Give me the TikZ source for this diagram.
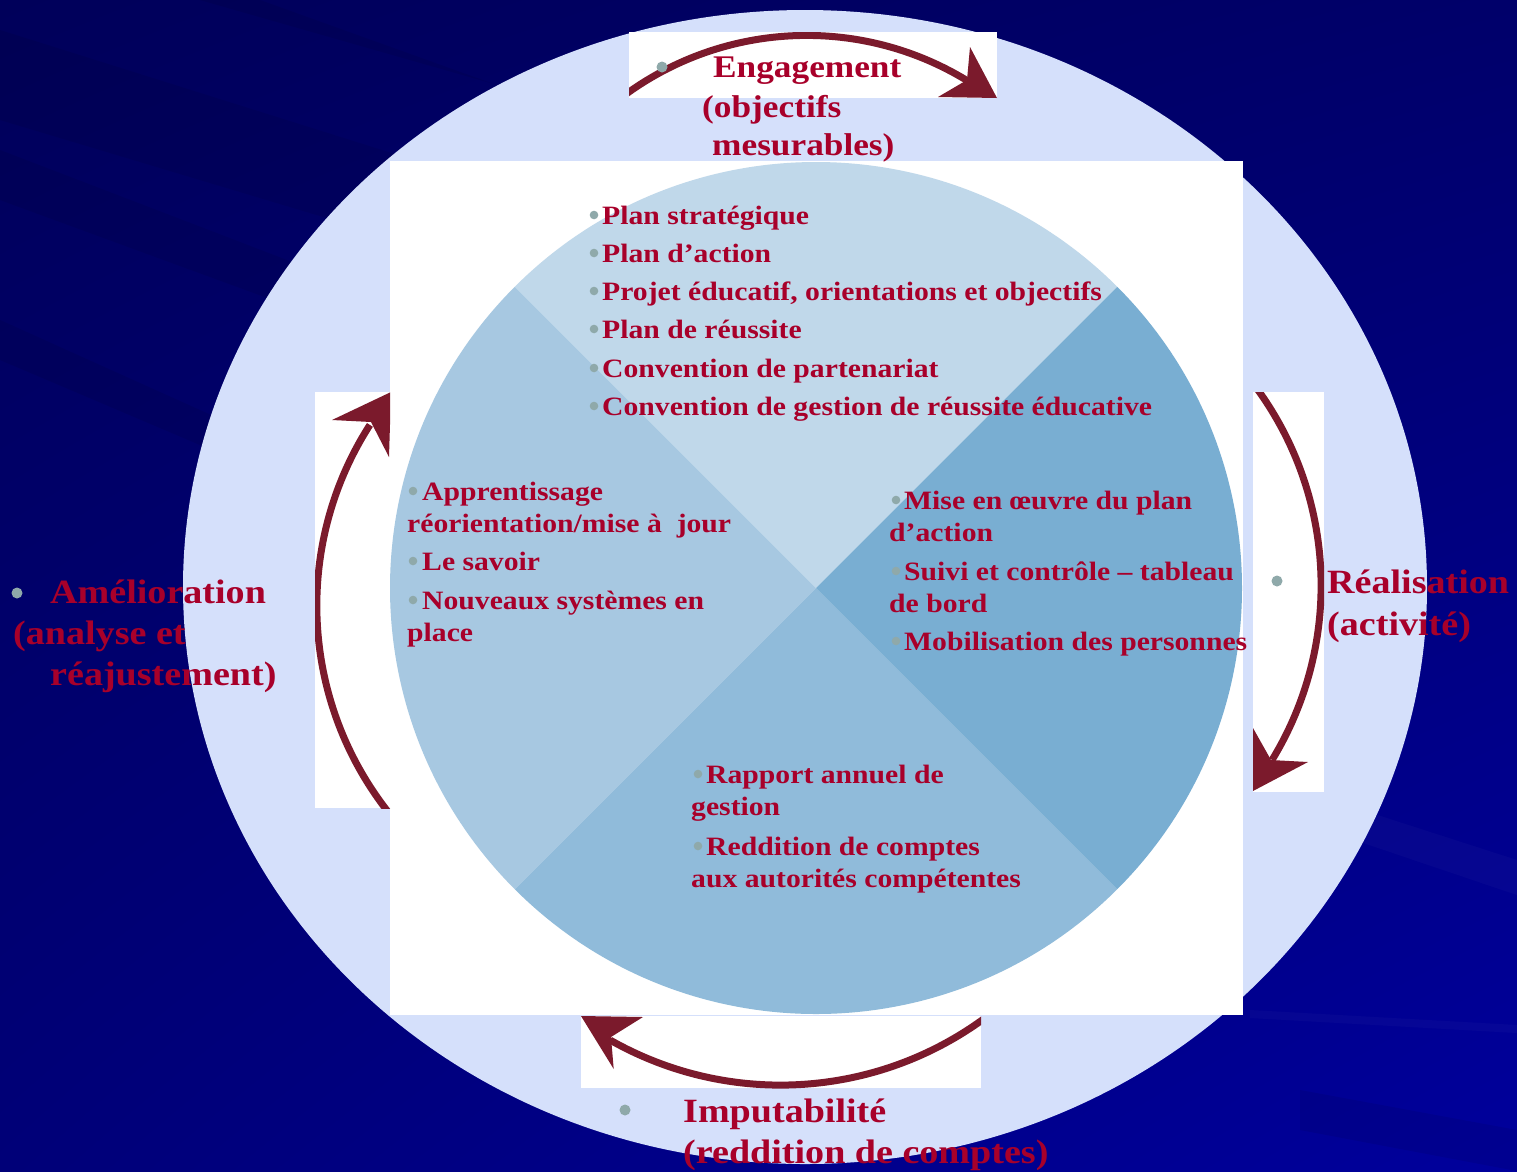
\documentclass[tikz,border=0pt]{standalone}
\usepackage{fontspec}
\usetikzlibrary{shadings}
\newfontfamily\labfont[FakeStretch=1.12]{Liberation Serif}
\definecolor{navyA}{HTML}{00005A}
\definecolor{navyB}{HTML}{00006A}
\definecolor{navyC}{HTML}{000078}
\definecolor{navyD}{HTML}{00009C}
\definecolor{ringc}{HTML}{D5E0FB}
\definecolor{qtop}{HTML}{C0D8EA}
\definecolor{qleft}{HTML}{A7C8E1}
\definecolor{qbot}{HTML}{90BBDA}
\definecolor{qright}{HTML}{79AED2}
\definecolor{arrowc}{HTML}{7B1A2C}
\definecolor{txtred}{HTML}{A8002A}
\definecolor{bulc}{HTML}{8FA9AA}
\tikzset{
  itxt/.style={font=\labfont\bfseries\fontsize{26.5}{32}\selectfont, text=txtred, inner sep=0pt, anchor=base west},
  otxt/.style={font=\labfont\bfseries\fontsize{34}{40}\selectfont, text=txtred, inner sep=0pt, anchor=base west},
  etxt/.style={font=\labfont\bfseries\fontsize{31.5}{38}\selectfont, text=txtred, inner sep=0pt, anchor=base west},
  arcline/.style={draw=arrowc, line width=7pt},
  headfill/.style={fill=arrowc},
  darkstreak/.style={fill=black, opacity=0.07},
  litestreak/.style={fill=white, opacity=0.025}
}
\begin{document}
\begin{tikzpicture}[x=1pt,y=1pt]
\useasboundingbox (0,0) rectangle (1517,-1171);
\clip (0,0) rectangle (1517,-1171);
% background
\shade[upper left=navyA, upper right=navyB, lower left=navyC, lower right=navyD] (0,0) rectangle (1517,-1171);
\fill[darkstreak] (0,-30) -- (700,-250) -- (700,-330) -- (0,-120) -- cycle;
\fill[darkstreak] (0,-150) -- (600,-380) -- (600,-420) -- (0,-200) -- cycle;
\fill[darkstreak] (0,-320) -- (400,-500) -- (400,-530) -- (0,-360) -- cycle;
\fill[darkstreak] (200,0) -- (900,-200) -- (900,-230) -- (260,0) -- cycle;
\fill[litestreak] (1300,-790) -- (1517,-860) -- (1517,-895) -- (1310,-825) -- cycle;
\fill[litestreak] (1250,-1010) -- (1517,-1025) -- (1517,-1033) -- (1250,-1018) -- cycle;
\fill[darkstreak] (1300,-1090) -- (1517,-1130) -- (1517,-1171) -- (1300,-1130) -- cycle;
% light ring shape
\fill[ringc] (805,-587) ellipse [x radius=622, y radius=577];
% white panels
\fill[white] (390,-161) rectangle (1243,-1015);
\fill[white] (629,-32) rectangle (997,-98);
\fill[white] (1253,-392) rectangle (1324,-792);
\fill[white] (581,-1016) rectangle (981,-1088);
\fill[white] (315,-392) rectangle (389.5,-808);
% pie
\coordinate (pc) at (816,-588);
\fill[qtop] (pc) -- ++(45:426) arc[start angle=45,end angle=135,radius=426] -- cycle;
\fill[qleft] (pc) -- ++(135:426) arc[start angle=135,end angle=225,radius=426] -- cycle;
\fill[qbot] (pc) -- ++(225:426) arc[start angle=225,end angle=315,radius=426] -- cycle;
\fill[qright] (pc) -- ++(-45:426) arc[start angle=-45,end angle=45,radius=426] -- cycle;
% arrows
\coordinate (tc) at (806.7,-342.9);
\coordinate (rc) at (986.6,-585.6);
\coordinate (bc) at (780.5,-740.3);
\coordinate (lc) at (650.8,-605.6);
\begin{scope}
\clip (629,-32) rectangle (997,-98);
\draw[arcline] (tc) ++(128:307.5) arc[start angle=128,end angle=58.6,radius=307.5];
\fill[headfill] (997,-98) -- (970,-47) -- (967,-80) -- (938,-97) -- cycle;
\end{scope}
\begin{scope}
\clip (1253,-392) rectangle (1324,-792);
\draw[arcline] (rc) ++(37:334.5) arc[start angle=37,end angle=-31.4,radius=334.5];
\fill[headfill] (1253,-791) -- (1308,-762) -- (1271,-760) -- (1253,-728) -- cycle;
\end{scope}
\begin{scope}
\clip (581,-1016) rectangle (981,-1088);
\draw[arcline] (bc) ++(-52:344.8) arc[start angle=-52,end angle=-119.6,radius=344.8];
\fill[headfill] (581,-1016) -- (643,-1017) -- (611,-1037) -- (613.7,-1069) -- cycle;
\end{scope}
\begin{scope}
\clip (315,-392) rectangle (390,-808);
\draw[arcline] (lc) ++(218:334) arc[start angle=218,end angle=147.25,radius=334];
\fill[headfill] (391,-392) -- (332,-420) -- (371,-422) -- (389,-457) -- cycle;
\end{scope}
% inner bullets
\foreach \y in {224,262,300,338,377,415} \fill[bulc] (594,-\y+9) circle (4.3);
\foreach \y in {500,570,609} \fill[bulc] (413,-\y+9) circle (4.3);
\foreach \y in {509,580,650} \fill[bulc] (896,-\y+9) circle (4.3);
\foreach \y in {783,855} \fill[bulc] (698,-\y+9) circle (4.3);
% top quadrant text
\node[itxt] (p1) at (602,-224) {Plan stratégique};
\node[itxt] (p2) at (602,-262) {Plan d’action};
\node[itxt] (p3) at (602,-300) {Projet éducatif, orientations et objectifs};
\node[itxt] (p4) at (602,-338) {Plan de réussite};
\node[itxt] (p5) at (602,-377) {Convention de partenariat};
\node[itxt] (p6) at (602,-415) {Convention de gestion de réussite éducative};
% left quadrant text
\node[itxt] (l1) at (422,-500) {Apprentissage};
\node[itxt] (l1b) at (407,-532) {réorientation/mise à~ jour};
\node[itxt] (l2) at (422,-570) {Le savoir};
\node[itxt] (l3) at (422,-609) {Nouveaux systèmes en};
\node[itxt] (l3b) at (407,-641) {place};
% right quadrant text
\node[itxt] (r1) at (904,-509) {Mise en œuvre du plan};
\node[itxt] (r1b) at (889,-541) {d’action};
\node[itxt] (r2) at (904,-580) {Suivi et contrôle – tableau};
\node[itxt] (r2b) at (889,-612) {de bord};
\node[itxt] (r3) at (904,-650) {Mobilisation des personnes};
% bottom quadrant text
\node[itxt] (b1) at (706,-783) {Rapport annuel de};
\node[itxt] (b1b) at (691,-815) {gestion};
\node[itxt] (b2) at (706,-855) {Reddition de comptes};
\node[itxt] (b2b) at (691,-887) {aux autorités compétentes};
% outer labels
\fill[bulc] (662,-67) circle (5.5);
\node[etxt] (e1) at (713,-77) {Engagement};
\node[etxt] (e2) at (702,-117) {(objectifs};
\node[etxt] (e3) at (712,-155) {mesurables)};
\fill[bulc] (17,-593) circle (5.5);
\node[otxt] (a1) at (50,-603) {Amélioration};
\node[otxt] (a2) at (13,-644) {(analyse et};
\node[otxt] (a3) at (50,-685) {réajustement)};
\fill[bulc] (1277,-581) circle (5.5);
\node[otxt] (re1) at (1327,-593) {Réalisation};
\node[otxt] (re2) at (1327,-635) {(activité)};
\fill[bulc] (625,-1110) circle (5.5);
\node[otxt] (i1) at (683,-1122) {Imputabilité};
\node[otxt] (i2) at (683,-1163) {(reddition de comptes)};
\end{tikzpicture}
\end{document}
